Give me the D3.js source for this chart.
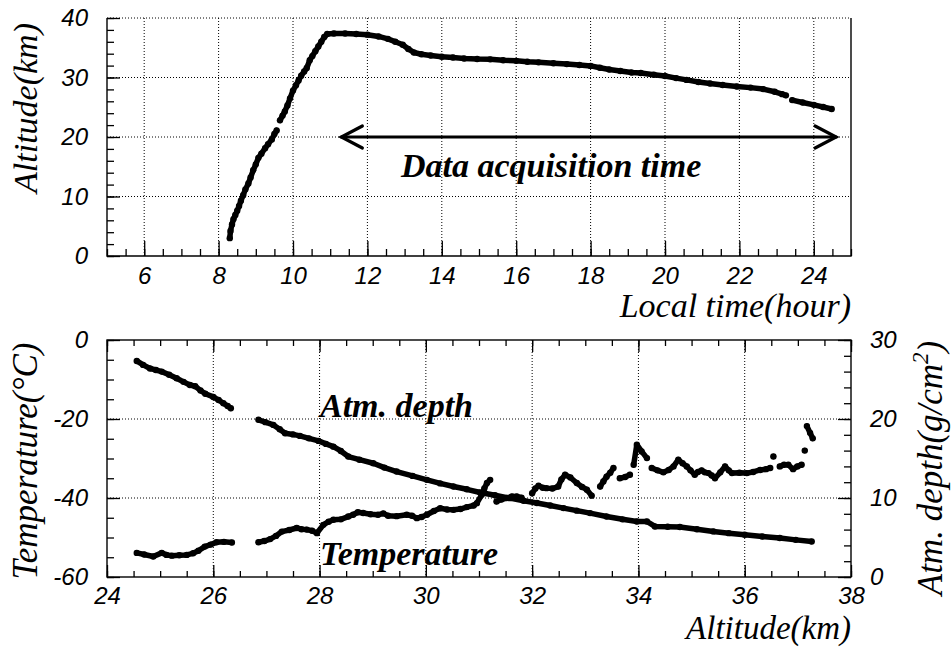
<!DOCTYPE html>
<html><head><meta charset="utf-8">
<script src="https://cdn.jsdelivr.net/npm/d3@7"></script>
<style>body{margin:0;background:#fff}svg{display:block}</style>
</head><body><script>
// ---------- DATA ----------
// Top panel: local time (hour) vs altitude (km); null = gap in the record
const flightTime = [8.30,8.32,8.36,8.40,8.45,8.50,8.55,8.60,8.66,8.72,8.80,8.86,8.93,9.00,9.07,9.15,9.25,9.33,9.43,9.50,9.56,9.60,
  9.65,9.72,9.78,9.85,9.92,10.00,10.08,10.15,10.22,10.30,10.37,10.45,10.52,10.60,10.68,10.76,10.84,10.92,
  11.1,11.4,11.7,12.0,12.3,12.55,12.75,12.95,13.1,13.25,13.45,13.7,14.0,14.3,14.6,14.95,15.3,15.65,16.0,16.3,16.6,17.0,
  17.36,17.7,18.0,18.25,18.5,18.8,19.1,19.35,19.7,20.0,20.3,20.58,20.9,21.21,21.55,21.93,22.3,22.64,22.95,23.15,23.25,23.33,
  23.42,23.7,24.0,24.25,24.48];
const flightAlt = [3.0,4.2,5.3,6.2,6.9,7.6,8.4,9.3,10.2,11.2,12.2,13.2,14.4,15.4,16.5,17.2,18.1,18.8,19.6,20.5,21.1,null,
  22.8,23.6,24.3,25.3,26.5,27.8,28.7,29.5,30.3,31.0,31.6,32.9,33.6,34.4,35.2,36.0,36.8,37.3,
  37.4,37.4,37.3,37.2,36.9,36.5,36.0,35.5,34.8,34.2,33.9,33.7,33.5,33.35,33.2,33.1,33.05,32.9,32.8,32.65,32.55,32.4,
  32.25,32.1,31.95,31.65,31.35,31.1,30.85,30.75,30.45,30.25,29.9,29.6,29.25,29.0,28.75,28.5,28.3,28.05,27.6,27.2,27.0,null,
  26.2,25.8,25.4,25.05,24.7];
const acquisitionStart = 11.3, acquisitionEnd = 24.6, acquisitionAlt = 20;

// Bottom panel: atmospheric depth (g/cm2) vs altitude (km)
const depthAlt = [24.56,24.68,24.81,24.92,25.03,25.17,25.31,25.44,25.56,25.66,25.76,25.85,26.0,26.1,26.19,26.27,26.33,26.6,
  26.85,26.98,27.13,27.25,27.35,27.5,27.63,27.8,27.98,28.12,28.26,28.4,28.54,28.75,29.01,29.22,29.45,29.75,30.02,30.27,30.52,30.77,
  31.02,31.3,31.58,31.84,32.09,32.34,32.59,32.84,33.09,33.4,33.7,33.97,34.16,34.31,34.55,34.78,35.1,35.41,35.7,36.0,36.33,36.66,36.96,37.26];
const depthValue = [27.35,26.85,26.4,26.2,26.0,25.6,25.15,24.7,24.3,24.15,23.6,23.2,22.8,22.4,22.0,21.65,21.36,null,
  19.9,19.6,19.25,18.7,18.2,18.05,17.86,17.55,17.23,16.85,16.5,15.95,15.25,14.85,14.4,13.85,13.35,12.8,12.3,11.85,11.45,11.1,
  10.7,10.35,9.98,9.65,9.36,9.05,8.72,8.4,8.09,7.66,7.3,7.03,7.03,6.4,6.36,6.32,6.05,5.77,5.55,5.35,5.12,4.93,4.7,4.5];

// Bottom panel: temperature (deg C) vs altitude (km)
const tempAlt = [24.56,24.7,24.87,25.03,25.12,25.22,25.36,25.5,25.62,25.72,25.84,25.95,26.06,26.2,26.35,26.6,
  26.85,26.96,27.07,27.18,27.29,27.43,27.57,27.66,27.76,27.86,27.95,28.07,28.17,28.26,28.4,28.54,28.63,28.72,28.82,28.96,
  29.1,29.2,29.29,29.45,29.64,29.74,29.83,29.92,30.02,30.15,30.27,30.4,30.52,30.65,30.77,30.9,30.96,31.05,31.1,31.15,31.21,31.27,
  31.33,31.42,31.52,31.62,31.71,31.8,31.9,
  32.0,32.06,32.12,32.2,32.27,32.38,32.49,32.55,32.62,32.72,32.84,32.94,33.03,33.12,33.2,
  33.28,33.34,33.4,33.47,33.53,33.59,33.65,33.75,33.84,33.88,33.91,33.97,34.06,34.16,34.2,
  34.25,34.36,34.47,34.57,34.66,34.75,34.83,34.91,34.98,35.06,35.12,35.19,35.25,35.32,35.38,35.44,35.54,35.63,35.7,35.76,35.9,
  36.04,36.16,36.29,36.4,36.48,36.51,36.54,36.6,36.66,36.74,36.82,36.91,36.99,37.07,37.1,37.13,37.15,37.17,37.23,37.28];
const tempValue = [-53.9,-54.3,-54.8,-53.9,-54.4,-54.6,-54.5,-54.4,-54.0,-53.35,-52.3,-51.8,-51.2,-51.1,-51.25,null,
  -51.2,-50.9,-50.4,-49.6,-48.5,-48.1,-47.6,-47.9,-48.0,-48.3,-48.9,-46.8,-46.0,-45.5,-45.4,-44.7,-44.25,-43.6,-43.8,-44.1,
  -44.25,-43.9,-44.5,-44.6,-44.25,-44.5,-45.1,-44.8,-44.25,-43.3,-42.6,-42.9,-43.0,-42.8,-42.3,-41.9,-41.3,-39.2,-37.6,-36.2,-35.4,null,
  -40.9,-40.4,-40.0,-39.6,-39.6,-39.9,null,
  -38.8,-37.6,-36.9,-37.4,-37.5,-37.6,-37.1,-35.3,-34.1,-34.8,-36.2,-37.2,-37.9,-39.4,null,
  -37.1,-35.8,-34.6,-33.6,-32.4,null,-35.0,-34.7,-34.1,null,-31.6,-26.5,-28.2,-29.9,null,
  -32.4,-33.0,-33.5,-32.9,-32.0,-30.3,-31.2,-32.0,-33.0,-34.1,-33.4,-33.0,-33.5,-33.7,-34.3,-35.0,-33.5,-32.0,-33.0,-33.7,-33.6,
  -33.7,-33.4,-32.9,-32.7,-32.4,null,-29.5,null,-32.0,-31.6,-31.6,-32.7,-32.0,-31.6,null,-28.0,null,-21.8,-23.5,-24.9];

// Tick labels
const timeTicks = [6,8,10,12,14,16,18,20,22,24];
const altTicks = [0,10,20,30,40];
const bAltTicks = [24,26,28,30,32,34,36,38];
const tempTicks = [0,-20,-40,-60];
const depthTicks = [0,10,20,30];

// ---------- DRAW ----------
const W = 951, H = 647;
const svg = d3.select("body").append("svg").attr("width", W).attr("height", H);
const SANS = "'Liberation Sans', Arial, Helvetica, sans-serif";
const SERIF = "'Liberation Serif', 'Times New Roman', serif";

const P1 = {l:107, r:851, t:18, b:256};
const P2 = {l:107, r:851, t:340, b:577};

const x1 = d3.scaleLinear().domain([5,25]).range([P1.l,P1.r]);
const y1 = d3.scaleLinear().domain([0,40]).range([P1.b,P1.t]);
const x2 = d3.scaleLinear().domain([24,38]).range([P2.l,P2.r]);
const yT = d3.scaleLinear().domain([-60,0]).range([P2.b,P2.t]);
const yD = d3.scaleLinear().domain([0,30]).range([P2.b,P2.t]);

function grid(g, xs, xv, ys, yv, P){
  g.selectAll(".gx").data(xv).join("line").attr("class","gx").attr("x1",d=>xs(d)).attr("x2",d=>xs(d)).attr("y1",P.t).attr("y2",P.b);
  g.selectAll(".gy").data(yv).join("line").attr("class","gy").attr("y1",d=>ys(d)).attr("y2",d=>ys(d)).attr("x1",P.l).attr("x2",P.r);
  g.selectAll("line").attr("stroke","#000").attr("stroke-width",1).attr("stroke-dasharray","1,2");
}
function styleAxis(g){
  g.select(".domain").remove();
  g.attr("font-size",24).attr("font-family",SANS);
  g.selectAll("line").attr("stroke","#000").attr("stroke-width",1.3);
  g.selectAll("text").attr("font-family",SANS).attr("font-style","italic").attr("font-size",24).attr("fill","#000");
}
const fmt = d => String(d);

// ===== Top panel =====
const gTop = svg.append("g");
grid(gTop.append("g"), x1, timeTicks, y1, [10,20,30,40], P1);
gTop.append("g").attr("transform",`translate(0,${P1.b})`)
  .call(d3.axisBottom(x1).tickValues(d3.range(5,25.01,0.5)).tickSize(-7).tickFormat(""))
  .call(styleAxis);
gTop.append("g").attr("transform",`translate(0,${P1.b})`)
  .call(d3.axisBottom(x1).tickValues(timeTicks).tickSize(-15).tickPadding(11).tickFormat(fmt))
  .call(styleAxis);
gTop.append("g").attr("transform",`translate(${P1.l},0)`)
  .call(d3.axisLeft(y1).tickValues(d3.range(0,40.01,2)).tickSize(-7).tickFormat(""))
  .call(styleAxis);
gTop.append("g").attr("transform",`translate(${P1.l},0)`)
  .call(d3.axisLeft(y1).tickValues(altTicks).tickSize(-13).tickPadding(19).tickFormat(fmt))
  .call(styleAxis);
// frame: solid left, bottom, right; top edge dotted like the grid
gTop.append("path").attr("d",`M${P1.l},${P1.t}V${P1.b}H${P1.r}V${P1.t}`)
  .attr("fill","none").attr("stroke","#000").attr("stroke-width",1.4);

const flight = flightTime.map((t,i)=>[t, flightAlt[i]]);
const line1 = d3.line().defined(d=>d[1]!=null).x(d=>x1(d[0])).y(d=>y1(d[1]));
gTop.append("path").datum(flight).attr("d",line1).attr("fill","none").attr("stroke","#000")
  .attr("stroke-width",5.5).attr("stroke-linecap","round").attr("stroke-linejoin","round");
gTop.append("g").selectAll("circle").data(flight.filter(d=>d[1]!=null)).join("circle")
  .attr("cx",d=>x1(d[0])).attr("cy",d=>y1(d[1])).attr("r",3.2).attr("fill","#000");

// arrow
const ay = y1(acquisitionAlt), ax0 = x1(acquisitionStart), ax1 = x1(acquisitionEnd);
const arr = gTop.append("g").attr("stroke","#000").attr("stroke-width",3.2).attr("fill","none").attr("stroke-linecap","round");
arr.append("line").attr("x1",ax0).attr("x2",ax1).attr("y1",ay).attr("y2",ay);
arr.append("path").attr("d",`M${ax0+21},${ay-11}L${ax0},${ay}L${ax0+21},${ay+11}`);
arr.append("path").attr("d",`M${ax1-21},${ay-11}L${ax1},${ay}L${ax1-21},${ay+11}`);
gTop.append("text").attr("x",x1(12.9)).attr("y",y1(13.3)).attr("font-family",SERIF)
  .attr("font-style","italic").attr("font-weight","bold").attr("font-size",34).text("Data acquisition time");

gTop.append("text").attr("x",P1.r).attr("y",317).attr("text-anchor","end").attr("font-family",SERIF)
  .attr("font-style","italic").attr("font-size",34).text("Local time(hour)");
gTop.append("text").attr("transform",`translate(37,108) rotate(-90)`).attr("text-anchor","middle")
  .attr("font-family",SERIF).attr("font-style","italic").attr("font-size",34).text("Altitude(km)");

// ===== Bottom panel =====
const gBot = svg.append("g");
grid(gBot.append("g"), x2, [26,28,30,32,34,36], yT, [-20,-40], P2);
gBot.append("g").attr("transform",`translate(0,${P2.b})`)
  .call(d3.axisBottom(x2).tickValues(d3.range(24,38.01,0.5)).tickSize(-6).tickFormat("")).call(styleAxis);
gBot.append("g").attr("transform",`translate(0,${P2.b})`)
  .call(d3.axisBottom(x2).tickValues(bAltTicks).tickSize(-12).tickPadding(10).tickFormat(fmt)).call(styleAxis);
gBot.append("g").attr("transform",`translate(0,${P2.t})`)
  .call(d3.axisTop(x2).tickValues(d3.range(24,38.01,0.5)).tickSize(-6).tickFormat("")).call(styleAxis);
gBot.append("g").attr("transform",`translate(0,${P2.t})`)
  .call(d3.axisTop(x2).tickValues(bAltTicks).tickSize(-12).tickFormat("")).call(styleAxis);
gBot.append("g").attr("transform",`translate(${P2.l},0)`)
  .call(d3.axisLeft(yT).tickValues(d3.range(-60,0.01,5)).tickSize(-7).tickFormat("")).call(styleAxis);
gBot.append("g").attr("transform",`translate(${P2.l},0)`)
  .call(d3.axisLeft(yT).tickValues(tempTicks).tickSize(-13).tickPadding(19).tickFormat(fmt)).call(styleAxis);
gBot.append("g").attr("transform",`translate(${P2.r},0)`)
  .call(d3.axisRight(yD).tickValues(d3.range(0,30.01,2)).tickSize(-7).tickFormat("")).call(styleAxis);
gBot.append("g").attr("transform",`translate(${P2.r},0)`)
  .call(d3.axisRight(yD).tickValues(depthTicks).tickSize(-13).tickPadding(19).tickFormat(fmt)).call(styleAxis);
gBot.append("rect").attr("x",P2.l).attr("y",P2.t).attr("width",P2.r-P2.l).attr("height",P2.b-P2.t)
  .attr("fill","none").attr("stroke","#000").attr("stroke-width",1.4);

const depth = depthAlt.map((a,i)=>[a, depthValue[i]]);
const temp = tempAlt.map((a,i)=>[a, tempValue[i]]);
const lineD = d3.line().defined(d=>d[1]!=null).x(d=>x2(d[0])).y(d=>yD(d[1]));
const lineT = d3.line().defined(d=>d[1]!=null).x(d=>x2(d[0])).y(d=>yT(d[1]));
[[depth,lineD,yD],[temp,lineT,yT]].forEach(([data,ln,ys])=>{
  gBot.append("path").datum(data).attr("d",ln).attr("fill","none").attr("stroke","#000")
    .attr("stroke-width",5.5).attr("stroke-linecap","round").attr("stroke-linejoin","round");
  gBot.append("g").selectAll("circle").data(data.filter(d=>d[1]!=null)).join("circle")
    .attr("cx",d=>x2(d[0])).attr("cy",d=>ys(d[1])).attr("r",3.2).attr("fill","#000");
});

gBot.append("text").attr("x",320).attr("y",417).attr("font-family",SERIF).attr("font-style","italic")
  .attr("font-weight","bold").attr("font-size",34).text("Atm. depth");
gBot.append("text").attr("x",320).attr("y",565).attr("font-family",SERIF).attr("font-style","italic")
  .attr("font-weight","bold").attr("font-size",34).text("Temperature");

gBot.append("text").attr("x",P2.r).attr("y",639).attr("text-anchor","end").attr("font-family",SERIF)
  .attr("font-style","italic").attr("font-size",33).text("Altitude(km)");
gBot.append("text").attr("transform",`translate(37,461) rotate(-90)`).attr("text-anchor","middle")
  .attr("font-family",SERIF).attr("font-style","italic").attr("font-size",35).text("Temperature(°C)");
const rt = gBot.append("text").attr("transform",`translate(942,468) rotate(-90)`).attr("text-anchor","middle")
  .attr("font-family",SERIF).attr("font-style","italic").attr("font-size",35);
rt.append("tspan").text("Atm. depth(g/cm");
rt.append("tspan").attr("dy",-14).attr("font-size",23).text("2");
rt.append("tspan").attr("dy",14).text(")");
</script></body></html>
